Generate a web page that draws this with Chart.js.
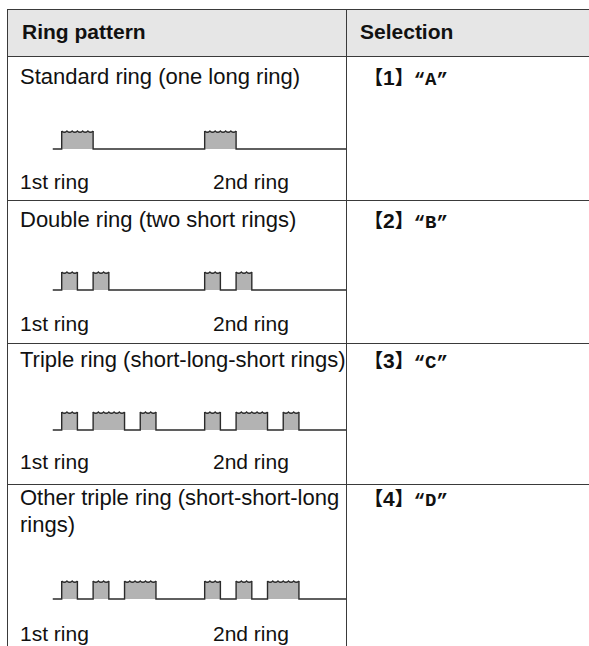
<!DOCTYPE html>
<html>
<head>
<meta charset="utf-8">
<script src="https://cdn.jsdelivr.net/npm/chart.js@4.4.0/dist/chart.umd.min.js"></script>
<style>
  body { margin: 0; width: 589px; height: 646px; overflow: hidden; background: #fff;
         font-family: "Liberation Sans", Arial, sans-serif; color: #111; position: relative; }
  .hl { position: absolute; left: 7px; width: 590px; height: 1px; background: #3a3a3a; }
  .vl { position: absolute; top: 9px; height: 640px; width: 1px; background: #3a3a3a; }
  .head { position: absolute; left: 7px; top: 9px; width: 590px; height: 47px; background: #e6e6e6; }
  .t { position: absolute; font-size: 21px; line-height: 24px; white-space: nowrap; }
  .n { font-size: 22px; }
  .b { font-weight: bold; }
  .br { font-family: "Noto Sans CJK JP", sans-serif; font-weight: bold; font-size: 19px; }
  .mono { font-family: "Liberation Mono", "Courier New", monospace; font-weight: bold; font-size: 19px; }
  canvas { position: absolute; }
</style>
</head>
<body>
<div class="head"></div>
<script>
// table content
const patternNames = [
  "Standard ring (one long ring)",
  "Double ring (two short rings)",
  "Triple ring (short-long-short rings)",
  "Other triple ring (short-short-long<br>rings)"
];
const selectionKeys = ["1", "2", "3", "4"];
const selectionLetters = ["A", "B", "C", "D"];
const ringLabels = ["1st ring", "2nd ring"];

// ring bursts, in short-ring units from the start of a ring
const ringA = [[0, 2]];
const ringB = [[0, 1], [2, 3]];
const ringC = [[0, 1], [2, 4], [5, 6]];
const ringD = [[0, 1], [2, 3], [4, 6]];
const rings = [ringA, ringB, ringC, ringD];
const secondRingStart = 9.1;
const lineStart = -0.57;
const lineEnd = 18.1;

// layout (pixel centres of each row's pieces)
const nameY = [77, 220, 360, 498];
const baseY = [149, 290, 430, 599];
const labelY = [182, 324, 462, 634];
const rowLines = [9, 56, 200, 343, 484];

function addDiv(cls, style, html) {
  const d = document.createElement("div");
  d.className = cls;
  d.setAttribute("style", style);
  if (html) d.innerHTML = html;
  document.body.appendChild(d);
  return d;
}

rowLines.forEach(y => addDiv("hl", "top:" + y + "px"));
addDiv("vl", "left:7px");
addDiv("vl", "left:346px");
addDiv("t b", "left:22px;top:20px", "Ring pattern");
addDiv("t b", "left:360px;top:20px", "Selection");

// wavy top on each burst
function wavyPlugin(bursts) {
  return {
    id: "wavy",
    afterDatasetsDraw(chart) {
      const xs = chart.scales.x, ys = chart.scales.y, c = chart.ctx;
      const yt = ys.getPixelForValue(1);
      c.save();
      c.strokeStyle = "#2b2b2b";
      c.lineWidth = 1.2;
      bursts.forEach(([s, e]) => {
        const x0 = xs.getPixelForValue(s), x1 = xs.getPixelForValue(e);
        const n = Math.max(2, Math.round((x1 - x0) / 5.3));
        const w = (x1 - x0) / n;
        c.beginPath();
        c.moveTo(x0, yt);
        for (let i = 0; i < n; i++) {
          c.quadraticCurveTo(x0 + w * (i + 0.5), yt + 2.8, x0 + w * (i + 1), yt);
        }
        c.stroke();
      });
      c.restore();
    }
  };
}

rings.forEach((ring, r) => {
  const top = nameY[r] - 12;
  addDiv("t n", "left:20px;top:" + (top - 2) + "px;line-height:27px", patternNames[r]);
  addDiv("t", "left:364px;top:" + top + "px",
    '<span class="br">【</span><span class="b">' + selectionKeys[r] +
    '</span><span class="br">】</span><span class="mono">“' + selectionLetters[r] + '”</span>');
  addDiv("t", "left:20px;top:" + (labelY[r] - 12) + "px", ringLabels[0]);
  addDiv("t", "left:213px;top:" + (labelY[r] - 12) + "px", ringLabels[1]);

  const bursts = ring.concat(ring.map(([s, e]) => [s + secondRingStart, e + secondRingStart]));
  const pts = [{ x: lineStart, y: 0 }];
  bursts.forEach(([s, e]) => {
    pts.push({ x: s, y: 0 }, { x: s, y: 1 }, { x: e, y: 1 }, { x: e, y: 0 });
  });
  pts.push({ x: lineEnd, y: 0 });

  const cv = document.createElement("canvas");
  cv.width = 300;
  cv.height = 30;
  cv.style.left = "50px";
  cv.style.top = (baseY[r] - 24) + "px";
  document.body.appendChild(cv);

  new Chart(cv, {
    type: "line",
    data: {
      datasets: [{
        data: pts,
        fill: "origin",
        backgroundColor: "#b3b3b3",
        borderColor: "#2b2b2b",
        borderWidth: 1.4,
        pointRadius: 0,
        tension: 0,
        segment: {
          borderColor: ctx => (ctx.p0.parsed.y === 1 && ctx.p1.parsed.y === 1) ? "rgba(0,0,0,0)" : undefined
        }
      }]
    },
    options: {
      responsive: false,
      animation: false,
      events: [],
      layout: { padding: 0 },
      plugins: { legend: { display: false }, tooltip: { enabled: false } },
      scales: {
        x: { type: "linear", display: false, min: -0.745, max: 18.35 },
        y: { display: false, min: -0.333, max: 1.333 }
      }
    },
    plugins: [wavyPlugin(bursts)]
  });
});
</script>
</body>
</html>
